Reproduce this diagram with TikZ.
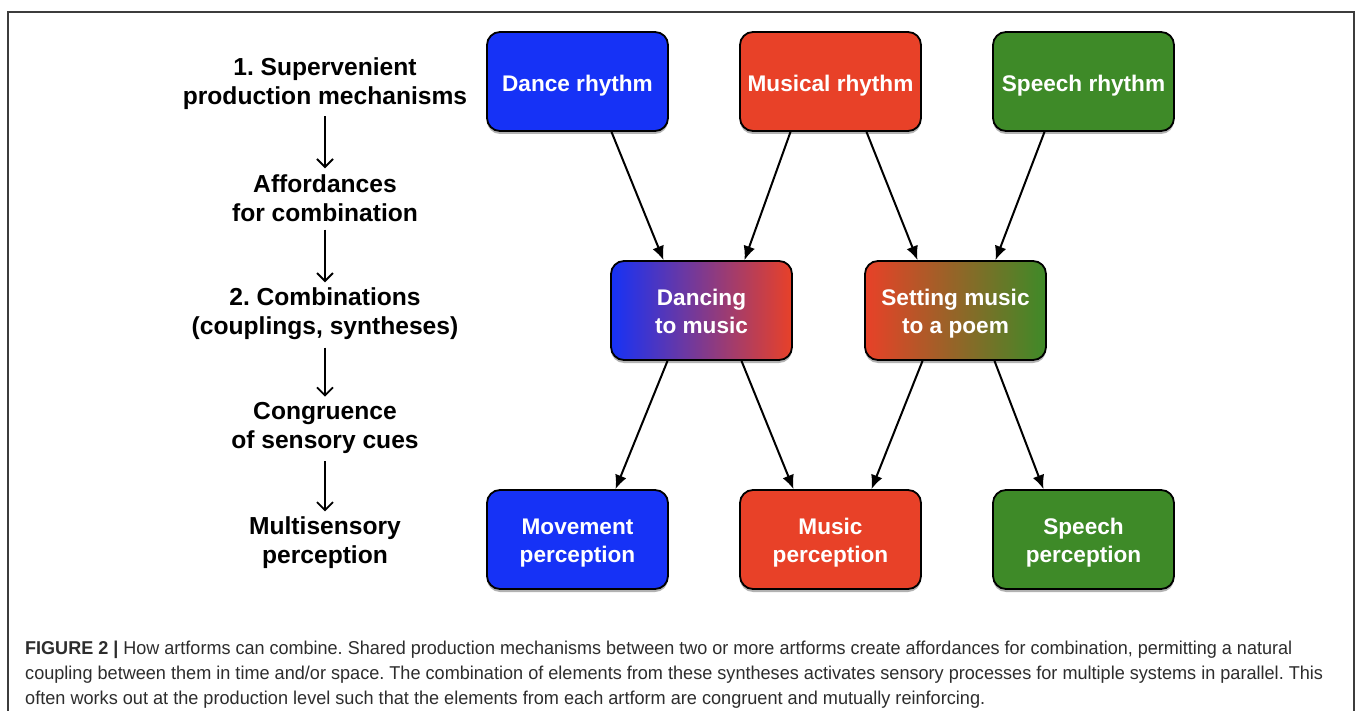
\documentclass[tikz,border=0pt]{standalone}
\usepackage{fontspec}
\setmainfont{Liberation Sans}
\usepackage{graphicx}
\usetikzlibrary{arrows.meta,calc}
\definecolor{cblue}{RGB}{22,50,246}
\definecolor{cred}{RGB}{232,65,40}
\definecolor{cgreen}{RGB}{62,138,40}
\definecolor{ctext}{RGB}{45,45,45}
\definecolor{cframe}{RGB}{60,60,60}
\tikzset{
  box/.style={draw=black, line width=1.8pt, rounded corners=13pt,
    minimum width=181pt, minimum height=99pt, inner sep=0pt,
    text=white, align=center,
    font=\bfseries\fontsize{22.6}{28}\selectfont},
  oneline/.style={text height=19.8pt, text depth=0pt},
  twoline/.style={text height=46.5pt, text depth=0pt},
  lbl/.style={align=center, text=black, inner sep=0pt,
    font=\bfseries\fontsize{24.6}{29}\selectfont},
  conn/.style={line width=2pt, -{Latex[length=14pt,width=12pt]}},
  lconn/.style={line width=1.8pt, -{Straight Barb[length=8pt,width=16pt,line width=1.8pt]}},
  captext/.style={anchor=west, inner sep=0pt, text=ctext, font=\fontsize{18.6}{22}\selectfont},
  shadowbox/.style={fill=black, opacity=0.3, rounded corners=13pt, minimum width=181pt,
    minimum height=99pt, inner sep=0pt}
}
\begin{document}
\frenchspacing
\begin{tikzpicture}[x=1pt,y=-1pt]
\useasboundingbox (0,0) rectangle (1357,711);
\fill[white] (0,0) rectangle (1357,711);
\draw[cframe, line width=1.2pt] (8,712) -- (8,12) -- (1354,12) -- (1354,712);

% shadows
\foreach \cx/\cy in {577.5/84.5, 830.5/84.5, 1083.5/84.5, 701.5/313.5, 955.5/313.5, 577.5/542.5, 830.5/542.5, 1083.5/542.5}
  \node[shadowbox] at (\cx,\cy) {};

% top row
\node[box, oneline, fill=cblue]  (dr) at (577.5,81.5) {Dance rhythm};
\node[box, oneline, fill=cred]   (mr) at (830.5,81.5) {Musical rhythm};
\node[box, oneline, fill=cgreen] (sr) at (1083.5,81.5) {Speech rhythm};
% middle row
\node[box, twoline, left color=cblue, right color=cred] (dm) at (701.5,310.5) {Dancing\\to music};
\node[box, twoline, left color=cred, right color=cgreen] (sm) at (955.5,310.5) {Setting music\\to a poem};
% bottom row
\node[box, twoline, fill=cblue]  (mp)  at (577.5,539.5) {Movement\\perception};
\node[box, twoline, fill=cred]   (mup) at (830.5,539.5) {Music\\perception};
\node[box, twoline, fill=cgreen] (spp) at (1083.5,539.5) {Speech\\perception};

% connectors
\draw[conn] ([xshift=34pt]dr.south) -- ([xshift=-38pt]dm.north);
\draw[conn] ([xshift=-40pt]mr.south) -- ([xshift=43pt]dm.north);
\draw[conn] ([xshift=36pt]mr.south) -- ([xshift=-38pt]sm.north);
\draw[conn] ([xshift=-39pt]sr.south) -- ([xshift=40pt]sm.north);
\draw[conn] ([xshift=-34pt]dm.south) -- ([xshift=38pt]mp.north);
\draw[conn] ([xshift=40pt]dm.south) -- ([xshift=-37pt]mup.north);
\draw[conn] ([xshift=-33pt]sm.south) -- ([xshift=41pt]mup.north);
\draw[conn] ([xshift=39pt]sm.south) -- ([xshift=-40pt]spp.north);

% left column
\node[lbl] (l1) at (325,84) {1. Supervenient\\production mechanisms};
\node[lbl] (l2) at (325,198) {Affordances\\for combination};
\node[lbl] (l3) at (325,313.5) {2. Combinations\\(couplings, syntheses)};
\node[lbl] (l4) at (325,427.5) {Congruence\\of sensory cues};
\node[lbl] (l5) at (325,542.5) {Multisensory\\perception};
\draw[lconn, shorten <=6pt, shorten >=6pt] (l1) -- (l2);
\draw[lconn, shorten <=8pt, shorten >=5pt] (l2) -- (l3);
\draw[lconn, shorten <=8pt, shorten >=5pt] (l3) -- (l4);
\draw[lconn, shorten <=8pt, shorten >=5pt] (l4) -- (l5);

% caption
\node[captext] (c1) at (25,650) {\resizebox{1267pt}{\height}{\textbf{FIGURE 2 |} How artforms can combine. Shared production mechanisms between two or more artforms create affordances for combination, permitting a natural}};
\node[captext] (c2) at (25,675) {\resizebox{1298pt}{\height}{coupling between them in time and/or space. The combination of elements from these syntheses activates sensory processes for multiple systems in parallel. This}};
\node[captext] (c3) at (25,700) {\resizebox{960pt}{\height}{often works out at the production level such that the elements from each artform are congruent and mutually reinforcing.}};
\end{tikzpicture}
\end{document}
